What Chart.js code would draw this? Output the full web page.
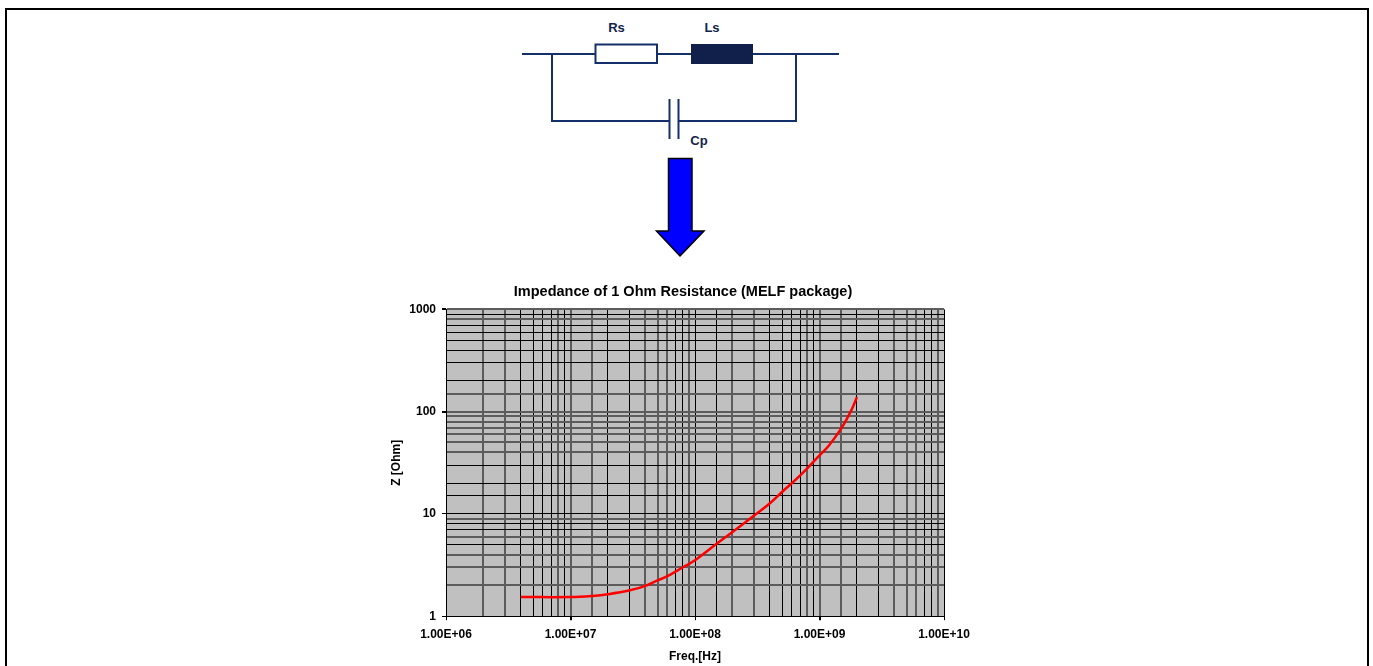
<!DOCTYPE html>
<html>
<head>
<meta charset="utf-8">
<title>Impedance of 1 Ohm Resistance</title>
<script src="https://cdn.jsdelivr.net/npm/chart.js@4"></script>
<style>
  html, body { margin: 0; padding: 0; background: #fff; overflow: hidden; }
  #wrap { position: relative; width: 1373px; height: 666px; }
  #frame { position: absolute; left: 5px; top: 8px; width: 1360px; height: 660px; border: 2px solid #000; border-bottom: 0; }
  #sketch { position: absolute; left: 0; top: 0; }
  #sketch text { font: bold 13px "Liberation Sans", Arial, sans-serif; fill: #14244a; text-anchor: middle; }
  #chart { position: absolute; left: 0; top: 0; }
</style>
</head>
<body>
<div id="wrap">
  <div id="frame"></div>
  <svg id="sketch" width="1373" height="270">
    <g fill="none" stroke="#14306a" stroke-width="2">
      <path d="M522 54H595M657 54H691M753 54H839"/>
      <path d="M552 54V121H669M796 54V121H679"/>
      <path d="M669.5 99V139M678.5 99V139"/>
      <rect x="595.5" y="44.5" width="61.5" height="18.5" fill="#fff"/>
    </g>
    <rect x="691" y="44" width="62" height="20" fill="#10204a"/>
    <text x="616.5" y="32">Rs</text>
    <text x="712" y="32">Ls</text>
    <text x="699" y="145">Cp</text>
    <path d="M668.5 158.5H692V231H704L680 256L656.5 231H668.5Z" fill="#0000ff" stroke="#000" stroke-width="1.5"/>
  </svg>
  <canvas id="chart" width="1373" height="666"></canvas>
</div>
<script>
var freq = [4e6, 1e7, 1.5e7, 2e7, 3e7, 4e7, 5e7, 6e7, 8e7, 1e8, 1.5e8, 2e8, 3e8, 4e8, 5e8, 7e8, 1e9, 1.2e9, 1.5e9, 1.8e9, 2e9];
var impedance = [1.54, 1.54, 1.58, 1.64, 1.79, 1.98, 2.24, 2.46, 3.01, 3.52, 5.13, 6.65, 9.69, 12.7, 16.4, 23.8, 37.4, 47.3, 69, 103, 139];
var xTickValues = [1e6, 1e7, 1e8, 1e9, 1e10];
var xTickLabels = ["1.00E+06", "1.00E+07", "1.00E+08", "1.00E+09", "1.00E+10"];
var yTickValues = [1, 10, 100, 1000];
var yTickLabels = ["1", "10", "100", "1000"];

var boldFont = { family: '"Liberation Sans", Arial, sans-serif', size: 12, weight: 'bold' };

// grey plot area
var plotBackground = {
  id: 'plotBackground',
  beforeDraw: function (chart) {
    var a = chart.chartArea;
    chart.ctx.save();
    chart.ctx.fillStyle = '#c0c0c0';
    chart.ctx.fillRect(a.left, a.top, a.right - a.left, a.bottom - a.top);
    chart.ctx.restore();
  }
};

// the title is not centred on the plot in the original
var titleShift = {
  id: 'titleShift',
  afterLayout: function (chart) {
    chart.titleBlock.left = 421;
    chart.titleBlock.right = 945;
  }
};

function tickMark(values) {
  return function (ctx) {
    return ctx.tick && values.indexOf(ctx.tick.value) >= 0 ? '#000' : 'rgba(0,0,0,0)';
  };
}

function labelFor(values, labels) {
  return function (value) {
    var i = values.indexOf(value);
    return i >= 0 ? labels[i] : '';
  };
}

// grid lines that fall between two pixels look wide and grey in the original
function straddles(ctx) {
  if (!ctx.tick) return false;
  var px = ctx.scale.getPixelForValue(ctx.tick.value);
  var f = px - Math.floor(px);
  return f > 0.3 && f < 0.7;
}
function gridColor(ctx) { return straddles(ctx) ? '#5c5c5c' : '#000'; }
function gridWidth(ctx) { return straddles(ctx) ? 2 : 1; }

var points = [];
for (var i = 0; i < freq.length; i++) {
  points.push({ x: freq[i], y: impedance[i] });
}

new Chart(document.getElementById('chart'), {
  type: 'scatter',
  data: {
    datasets: [{
      label: 'Z',
      data: points,
      showLine: true,
      borderColor: '#ff0000',
      borderWidth: 2.5,
      pointRadius: 0,
      tension: 0.4
    }]
  },
  options: {
    responsive: false,
    animation: false,
    layout: { padding: { left: 389, right: 429, top: 283, bottom: 2 } },
    plugins: {
      legend: { display: false },
      tooltip: { enabled: false },
      title: {
        display: true,
        text: 'Impedance of 1 Ohm Resistance (MELF package)',
        color: '#000',
        font: { family: boldFont.family, size: 14.5, weight: 'bold' },
        padding: { top: 0, bottom: 9 }
      }
    },
    scales: {
      x: {
        type: 'logarithmic',
        min: 1e6,
        max: 1e10,
        border: { color: '#000', width: 1 },
        grid: { color: gridColor, lineWidth: gridWidth, tickColor: tickMark(xTickValues), tickLength: 4 },
        ticks: {
          color: '#000',
          font: boldFont,
          autoSkip: false,
          maxRotation: 0,
          padding: 7,
          callback: labelFor(xTickValues, xTickLabels)
        },
        title: {
          display: true,
          text: 'Freq.[Hz]',
          color: '#000',
          font: boldFont,
          padding: { top: 1, bottom: 0 }
        }
      },
      y: {
        type: 'logarithmic',
        min: 1,
        max: 1000,
        border: { color: '#000', width: 1 },
        grid: { color: gridColor, lineWidth: gridWidth, tickColor: tickMark(yTickValues), tickLength: 4 },
        ticks: {
          color: '#000',
          font: boldFont,
          autoSkip: false,
          padding: 6,
          callback: labelFor(yTickValues, yTickLabels)
        },
        title: {
          display: true,
          text: 'Z [Ohm]',
          color: '#000',
          font: boldFont,
          padding: { top: 0, bottom: 6 }
        },
        afterFit: function (scale) { scale.width = 57; }
      }
    }
  },
  plugins: [plotBackground, titleShift]
});
</script>
</body>
</html>
